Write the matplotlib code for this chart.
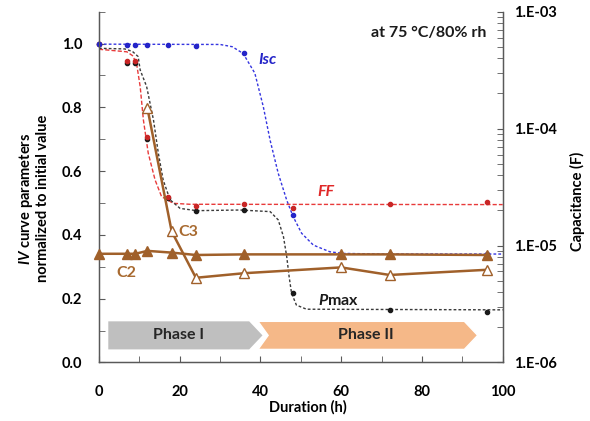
import math
import matplotlib
matplotlib.use("Agg")
import matplotlib.pyplot as plt
from matplotlib.patches import Polygon
from matplotlib.ticker import MultipleLocator, FixedLocator, LogLocator, NullFormatter, FuncFormatter

plt.rcParams['font.family'] = ['Lato', 'DejaVu Sans']
plt.rcParams['mathtext.fontset'] = 'custom'
plt.rcParams['mathtext.it'] = 'Lato:italic:bold'
plt.rcParams['mathtext.rm'] = 'Lato:bold'
plt.rcParams['mathtext.bf'] = 'Lato:bold'

# ---------------- data ----------------
iv_time = [0, 7, 9, 12, 17, 24, 36, 48, 72, 96]
isc_vals = [1.0, 0.996, 0.996, 0.995, 0.994, 0.992, 0.97, 0.462, 0.34, 0.34]
ff_vals = [1.0, 0.944, 0.944, 0.706, 0.52, 0.49, 0.498, 0.483, 0.497, 0.502]
pmax_vals = [1.0, 0.94, 0.94, 0.70, 0.515, 0.476, 0.477, 0.217, 0.165, 0.158]

# fitted trend curves
isc_fit_t = [0, 30, 33, 35.7, 38.6, 40.7, 42.4, 44.4, 46.5, 48.1, 50.2, 53.1, 57.2, 60.4, 70, 100]
isc_fit_y = [0.998, 0.997, 0.99, 0.969, 0.907, 0.802, 0.696, 0.593, 0.509, 0.457, 0.405, 0.368, 0.347, 0.342, 0.34, 0.34]
ff_fit_t = [0, 6.9, 8.3, 9.3, 10.2, 11.0, 12.2, 13.9, 15.5, 18.4, 22.5, 100]
ff_fit_y = [0.982, 0.974, 0.962, 0.938, 0.865, 0.76, 0.656, 0.572, 0.52, 0.499, 0.496, 0.495]
pmax_fit_t = [0, 6.4, 8.3, 9.7, 10.2, 11.8, 13.5, 14.7, 15.9, 17.6, 20.1, 24.2, 34.9, 42.4, 44.4, 45.7,
              46.5, 47.1, 47.7, 48.9, 51.4, 100]
pmax_fit_y = [0.985, 0.983, 0.975, 0.959, 0.917, 0.865, 0.76, 0.656, 0.572, 0.51, 0.483, 0.476, 0.478,
              0.473, 0.447, 0.394, 0.332, 0.269, 0.217, 0.18, 0.167, 0.165]

cap_time = [0, 7, 9, 12, 18, 24, 36, 60, 72, 96]
c2_vals = [8.5e-6, 8.5e-6, 8.5e-6, 9.0e-6, 8.7e-6, 8.3e-6, 8.4e-6, 8.4e-6, 8.4e-6, 8.3e-6]
c3_time = [12, 18, 24, 36, 60, 72, 96]
c3_vals = [1.49e-4, 1.32e-5, 5.3e-6, 5.8e-6, 6.5e-6, 5.6e-6, 6.2e-6]

phase_names = ['Phase I', 'Phase II']
phase_start = [2.3, 39.4]
phase_end = [40.5, 93.8]
phase_colors = ['#BFBFBF', '#F5B888']

x_ticks = [0, 20, 40, 60, 80, 100]
y_ticks = [0.0, 0.2, 0.4, 0.6, 0.8, 1.0]
cap_ticks = [1e-6, 1e-5, 1e-4, 1e-3]

# ---------------- colours ----------------
blue = '#2424C8'
red = '#E02828'
black = '#1A1A1A'
brown = '#A0602A'
spine_c = '#595959'
ann_fs = 11.5
tick_fs = 10.5

fig = plt.figure(figsize=(5.9, 4.21), dpi=100)
ax = fig.add_axes([0.1678, 0.139, 0.6842, 0.8334])
ax.set_xlim(0, 100)
ax.set_ylim(0, 1.1)

# phase arrows
y_lo, y_hi = 0.041, 0.129
y_mid = (y_lo + y_hi) / 2
tip = 3.3
notch = 2.5
for i, (nm, s, e, c) in enumerate(zip(phase_names, phase_start, phase_end, phase_colors)):
    pts = [(s, y_lo), (e - tip, y_lo), (e, y_mid), (e - tip, y_hi), (s, y_hi)]
    if i > 0:
        pts.append((s + notch, y_mid))
    ax.add_patch(Polygon(pts, closed=True, facecolor=c, edgecolor='white' if i > 0 else 'none',
                         linewidth=1.0, zorder=1))
    cx = (s + e - tip) / 2 + (notch / 2 if i > 0 else 0)
    ax.text(cx, y_mid, nm, ha='center', va='center', fontsize=ann_fs, fontweight='bold',
            color='#262626', zorder=2)

# fit curves
ax.plot(isc_fit_t, isc_fit_y, color='#3535E0', lw=1.0, ls=(0, (2, 1.5)), zorder=3)
ax.plot(ff_fit_t, ff_fit_y, color='#E83A3A', lw=1.0, ls=(0, (3, 1.5)), zorder=3)
ax.plot(pmax_fit_t, pmax_fit_y, color='#3A3A3A', lw=1.0, ls=(0, (2, 1.5)), zorder=3)

# data points
ax.plot(iv_time, pmax_vals, 'o', color=black, ms=3, zorder=4, clip_on=False)
ax.plot(iv_time, ff_vals, 'o', color='#C82626', ms=3, zorder=5, clip_on=False)
ax.plot(iv_time, isc_vals, 'o', color=blue, ms=3, zorder=6, clip_on=False)

# text labels
ax.text(39.6, 0.948, 'Isc', color=blue, fontsize=ann_fs, fontweight='bold', fontstyle='italic',
        ha='left', va='center')
ax.text(54.0, 0.533, 'FF', color=red, fontsize=ann_fs, fontweight='bold', fontstyle='italic',
        ha='left', va='center')
ax.text(54.2, 0.193, r'$\mathit{P}$max', color=black, fontsize=ann_fs, fontweight='bold',
        ha='left', va='center')
ax.text(96.0, 1.032, 'at 75 °C/80% rh', color=black, fontsize=ann_fs, fontweight='bold',
        ha='right', va='center')

# axes styling
for side in ['left', 'bottom', 'right']:
    ax.spines[side].set_color(spine_c)
    ax.spines[side].set_linewidth(1.0)
ax.spines['top'].set_visible(False)
ax.xaxis.set_major_locator(FixedLocator(x_ticks))
ax.xaxis.set_minor_locator(MultipleLocator(10))
ax.yaxis.set_major_locator(FixedLocator(y_ticks))
ax.yaxis.set_minor_locator(MultipleLocator(0.1))
ax.yaxis.set_major_formatter(FuncFormatter(lambda v, p: f'{v:.1f}'))
ax.tick_params(axis='x', which='both', direction='in', length=4, color=spine_c, pad=16,
               labelsize=tick_fs)
ax.tick_params(axis='y', which='both', direction='in', length=4, color=spine_c, pad=12,
               labelsize=tick_fs)
for lbl in ax.get_xticklabels() + ax.get_yticklabels():
    lbl.set_fontweight('bold')
ax.set_xlabel('Duration (h)', fontsize=tick_fs, fontweight='bold')
ax.xaxis.set_label_coords(0.518, -0.106)
ax.xaxis.label.set_va('top')
ax.set_ylabel(r'$\mathit{IV}$ curve parameters' + '\nnormalized to initial value',
              fontsize=tick_fs, fontweight='bold', linespacing=1.15)
ax.yaxis.set_label_coords(-0.121, 0.467)

# capacitance axis
ax2 = ax.twinx()
ax2.set_yscale('log')
ax2.set_ylim(1e-6, 1e-3)
ax2.spines['top'].set_visible(False)
for side in ['left', 'bottom', 'right']:
    ax2.spines[side].set_color(spine_c)
ax2.plot(cap_time, c2_vals, '-^', color=brown, lw=1.8, ms=7.5, mfc=brown, mec=brown, zorder=5,
         clip_on=False)
ax2.plot(c3_time, c3_vals, '-^', color=brown, lw=1.8, ms=7.5, mfc='white', mec=brown,
         mew=1.0, zorder=5, clip_on=False)
ax2.yaxis.set_major_locator(FixedLocator(cap_ticks))
ax2.yaxis.set_minor_locator(LogLocator(base=10, subs=range(2, 10)))
ax2.yaxis.set_minor_formatter(NullFormatter())
ax2.yaxis.set_major_formatter(FuncFormatter(lambda v, p: '1.E%+03d' % round(math.log10(v))))
ax2.tick_params(axis='y', which='both', direction='in', length=4, color=spine_c, pad=8.5,
                labelsize=tick_fs)
for lbl in ax2.get_yticklabels():
    lbl.set_fontweight('bold')
ax2.set_ylabel('Capacitance (F)', fontsize=tick_fs, fontweight='bold')
ax2.yaxis.set_label_coords(1.167, 0.46)
ax2.yaxis.label.set_va('top')

ax2.text(19.6, 0.408 / 1.1, 'C3', transform=ax2.get_xaxis_transform(), color='#A86A30',
         fontsize=ann_fs, fontweight='bold', ha='left', va='center')
ax2.text(4.4, 0.281 / 1.1, 'C2', transform=ax2.get_xaxis_transform(), color='#A86A30',
         fontsize=ann_fs, fontweight='bold', ha='left', va='center')

fig.savefig('out.png', dpi=100)
